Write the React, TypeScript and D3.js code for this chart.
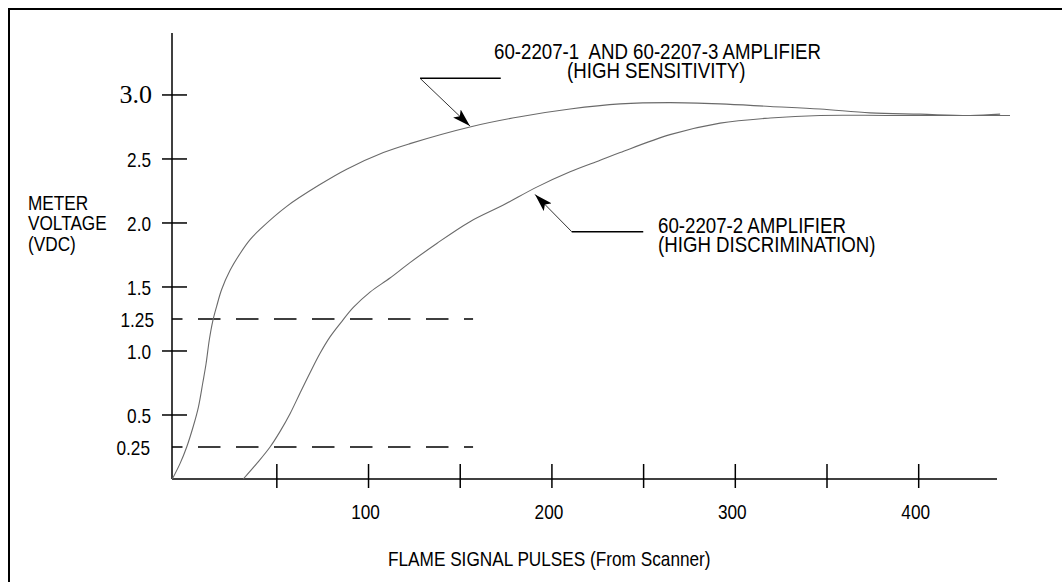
import React from 'react';
import * as d3 from 'd3';

// ---- data ----
const sensitivityPulses = [-7.0, -2.8, 0.85, 4.4, 7.2, 9.6, 11.4, 13.2, 15.0, 17.2, 19.9, 24.5, 29.9, 35.4, 40.8, 55.4, 73.5, 88.1, 108.1, 122.6, 155.3, 182.6, 209.9, 237.2, 264.4, 291.7, 319.0, 346.2, 373.5, 400.8, 428.0, 444.4];
const sensitivityVolts = [0, 0.12, 0.25, 0.41, 0.56, 0.75, 0.90, 1.09, 1.23, 1.35, 1.48, 1.63, 1.76, 1.87, 1.95, 2.13, 2.30, 2.42, 2.55, 2.62, 2.75, 2.83, 2.89, 2.93, 2.94, 2.93, 2.91, 2.89, 2.86, 2.85, 2.84, 2.85];

const discriminationPulses = [31.7, 39.0, 46.3, 51.7, 57.2, 62.6, 68.1, 73.5, 79.0, 85.4, 91.7, 100.8, 111.7, 122.6, 137.2, 155.3, 173.5, 191.7, 209.9, 226.3, 237.2, 264.4, 291.7, 319.0, 346.2, 383.0, 419.0, 449.8];
const discriminationVolts = [0, 0.12, 0.25, 0.37, 0.51, 0.67, 0.83, 0.98, 1.11, 1.23, 1.34, 1.46, 1.57, 1.69, 1.84, 2.01, 2.14, 2.28, 2.40, 2.49, 2.55, 2.69, 2.78, 2.82, 2.84, 2.84, 2.84, 2.84];

const yTickValues = [0.5, 1.0, 1.5, 2.0, 2.5, 3.0];
const yTickLabels = ['0.5', '1.0', '1.5', '2.0', '2.5', '3.0'];
const thresholdValues = [1.25, 0.25];
const thresholdLabels = ['1.25', '0.25'];
const xTickValues = [50, 100, 150, 200, 250, 300, 350, 400];
const xLabelValues = [100, 200, 300, 400];
const xLabelTexts = ['100', '200', '300', '400'];

const sensitivityLabel = ['60-2207-1  AND 60-2207-3 AMPLIFIER', '(HIGH SENSITIVITY)'];
const discriminationLabel = ['60-2207-2 AMPLIFIER', '(HIGH DISCRIMINATION)'];
const yTitle = ['METER', 'VOLTAGE', '(VDC)'];
const xTitle = 'FLAME SIGNAL PULSES (From Scanner)';

const W = 1062;
const H = 582;
const SANS = "'Liberation Sans', Arial, Helvetica, sans-serif";
const SERIF = "'Liberation Serif', 'Times New Roman', serif";
const SQUEEZE = 0.82;

type NTextProps = {
  x: number;
  y: number;
  size: number;
  anchor?: 'start' | 'middle' | 'end';
  dy?: string;
  children: React.ReactNode;
};

// condensed sans text (Helvetica-Narrow look)
function NText({ x, y, size, anchor = 'start', dy, children }: NTextProps) {
  return (
    <text
      transform={`translate(${x},${y}) scale(${SQUEEZE},1)`}
      dy={dy}
      textAnchor={anchor}
      fontFamily={SANS}
      fontSize={size}
      fill="#000"
      style={{ whiteSpace: 'pre' }}
    >
      {children}
    </text>
  );
}

// two-line condensed label; second line offset horizontally (in screen px)
function TwoLine({ x, y, size, lines, shift, gap }: { x: number; y: number; size: number; lines: string[]; shift: number; gap: number }) {
  return (
    <text
      transform={`translate(${x},${y}) scale(${SQUEEZE},1)`}
      fontFamily={SANS}
      fontSize={size}
      fill="#000"
      style={{ whiteSpace: 'pre' }}
    >
      <tspan x={0} y={0}>{lines[0]}</tspan>
      <tspan x={shift / SQUEEZE} y={gap}>{lines[1]}</tspan>
    </text>
  );
}

export default function App() {
  const x = d3.scaleLinear().domain([-7.17, 442.7]).range([172, 997]);
  const y = d3.scaleLinear().domain([0, 3.484]).range([479, 33]);

  const line = d3
    .line<[number, number]>()
    .x((d) => x(d[0]))
    .y((d) => y(d[1]))
    .curve(d3.curveCatmullRom.alpha(0.5));

  const sens: [number, number][] = sensitivityPulses.map((p, i) => [p, sensitivityVolts[i]]);
  const disc: [number, number][] = discriminationPulses.map((p, i) => [p, discriminationVolts[i]]);

  const x0 = x.range()[0];
  const y0 = y.range()[0];
  const yTop = y.range()[1];
  const xEnd = x.range()[1];

  // annotation arrows in data units
  const arrow1 = { tip: [155.3, 2.758], elbow: [128.1, 3.13], end: [172.1, 3.13] };
  const arrow2 = { tip: [190.8, 2.223], elbow: [210.8, 1.932], end: [249.8, 1.932] };

  const arrowPath = (a: { tip: number[]; elbow: number[]; end: number[] }) =>
    `M${x(a.elbow[0])},${y(a.elbow[1])}L${x(a.tip[0])},${y(a.tip[1])}`;

  return (
    <svg
      width={W}
      height={H}
      viewBox={`0 0 ${W} ${H}`}
      style={{ position: 'absolute', left: 0, top: 0, display: 'block', background: '#fff' }}
    >
      <defs>
        <marker
          id="ah"
          viewBox="0 0 18 11"
          refX="18"
          refY="5.5"
          markerWidth="18"
          markerHeight="11"
          markerUnits="userSpaceOnUse"
          orient="auto"
        >
          <path d="M0,0L18,5.5L0,11L4,5.5Z" fill="#000" />
        </marker>
      </defs>
      <rect x={0} y={0} width={W} height={H} fill="#fff" />
      <rect x={9} y={9} width={1200} height={800} fill="none" stroke="#000" strokeWidth={2} />

      {/* axes */}
      <line x1={x0} y1={yTop} x2={x0} y2={y0} stroke="#000" strokeWidth={1.5} />
      <line x1={x0} y1={y0} x2={xEnd} y2={y0} stroke="#000" strokeWidth={1.5} />

      {yTickValues.map((v, i) => (
        <g key={'yt' + i}>
          <line x1={x0 - 10} x2={x0 + 15} y1={y(v)} y2={y(v)} stroke="#000" strokeWidth={1.5} />
          {v === 3.0 ? (
            <text x={152} y={y(v)} dy="0.3em" textAnchor="end" fontFamily={SERIF} fontSize={26} fill="#000">
              {yTickLabels[i]}
            </text>
          ) : (
            <NText x={151} y={y(v)} dy="0.36em" anchor="end" size={21}>
              {yTickLabels[i]}
            </NText>
          )}
        </g>
      ))}

      {thresholdValues.map((v, i) => (
        <g key={'th' + i}>
          <line
            x1={x0}
            x2={x(157)}
            y1={y(v)}
            y2={y(v)}
            stroke="#000"
            strokeWidth={1.5}
            strokeDasharray="22.5 15.5"
            strokeDashoffset={12}
          />
          <NText x={i === 0 ? 154 : 150} y={y(v)} dy="0.36em" anchor="end" size={21}>
            {thresholdLabels[i]}
          </NText>
        </g>
      ))}

      {xTickValues.map((v, i) => (
        <line key={'xt' + i} x1={x(v)} x2={x(v)} y1={y0 - 15} y2={y0 + 9} stroke="#000" strokeWidth={1.5} />
      ))}
      {xLabelValues.map((v, i) => (
        <NText key={'xl' + i} x={x(v) - 3} y={y0 + 39.5} anchor="middle" size={21}>
          {xLabelTexts[i]}
        </NText>
      ))}

      {/* titles */}
      <text
        transform={`translate(28,209.5) scale(${SQUEEZE},1)`}
        fontFamily={SANS}
        fontSize={21}
        fill="#000"
      >
        {yTitle.map((t, i) => (
          <tspan key={'ytl' + i} x={0} y={i * 21}>
            {t}
          </tspan>
        ))}
      </text>
      <NText x={388} y={566} size={21}>
        {xTitle}
      </NText>

      {/* curves */}
      <path d={line(sens) || ''} fill="none" stroke="#6a6a6a" strokeWidth={1.1} />
      <path d={line(disc) || ''} fill="none" stroke="#6a6a6a" strokeWidth={1.1} />

      {/* annotations */}
      <path d={arrowPath(arrow1)} fill="none" stroke="#333" strokeWidth={1} markerEnd="url(#ah)" />
      <path d={arrowPath(arrow2)} fill="none" stroke="#333" strokeWidth={1} markerEnd="url(#ah)" />
      <line x1={x(arrow1.elbow[0])} x2={x(arrow1.end[0])} y1={y(arrow1.end[1])} y2={y(arrow1.end[1])} stroke="#000" strokeWidth={1.5} />
      <line x1={x(arrow2.elbow[0])} x2={x(arrow2.end[0])} y1={y(arrow2.end[1])} y2={y(arrow2.end[1])} stroke="#000" strokeWidth={1.5} />

      <TwoLine x={494} y={59.3} size={22.8} lines={sensitivityLabel} shift={73} gap={19} />
      <TwoLine x={658} y={232.7} size={22.8} lines={discriminationLabel} shift={0} gap={19} />
    </svg>
  );
}
